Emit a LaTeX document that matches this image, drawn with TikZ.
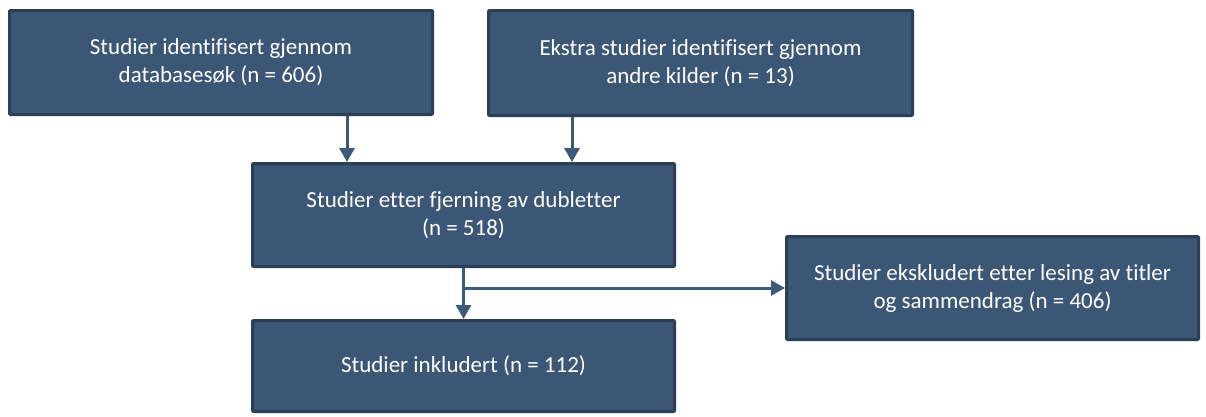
\documentclass[tikz,border=0pt]{standalone}
\usepackage{fontspec}
\setmainfont[Ligatures={NoCommon}]{Carlito}
\usepackage{tikz}
\usetikzlibrary{arrows.meta,calc,positioning}
\definecolor{boxfill}{HTML}{3B5775}
\definecolor{boxline}{HTML}{2B3F57}
\definecolor{arrowcol}{HTML}{3D5A79}

\begin{document}
\begin{tikzpicture}[x=1pt, y=-1pt,
	box/.style={draw=boxline, line width=3pt, fill=boxfill, text=white, rounded corners=1pt,
		align=center, inner sep=0pt, font=\fontsize{23}{28}\selectfont},
	arr/.style={draw=arrowcol, line width=3pt, -{Triangle[length=14pt, width=15pt]}}
	]
	
	\useasboundingbox (0,0) rectangle (1206,416);
	
	\node[box, minimum width=423pt, minimum height=104pt] (ident) at (221, 62.5)
		{Studier identifisert gjennom\\databasesøk (n = 606)};
	\node[box, minimum width=424pt, minimum height=105pt] (ekstra) at (700.5, 63)
		{Ekstra studier identifisert gjennom\\andre kilder (n = 13)};
	\node[box, minimum width=422pt, minimum height=103pt] (dubl) at (463.5, 215)
		{Studier etter fjerning av dubletter\\(n = 518)};
	\node[box, minimum width=412pt, minimum height=103pt] (eksk) at (992.5, 288)
		{Studier ekskludert etter lesing av titler\\og sammendrag (n = 406)};
	\node[box, minimum width=422pt, minimum height=91pt] (inkl) at (463.5, 366)
		{Studier inkludert (n = 112)};
	
	\coordinate (pa) at (347, 0);
	\coordinate (pb) at (572, 0);
	\draw[arr] (ident.south -| pa) -- (dubl.north -| pa);
	\draw[arr] (ekstra.south -| pb) -- (dubl.north -| pb);
	\draw[arr] (dubl.south) -- (inkl.north);
	\draw[arr] (dubl.south |- eksk.west) -- (eksk.west);
	
\end{tikzpicture}
\end{document}
